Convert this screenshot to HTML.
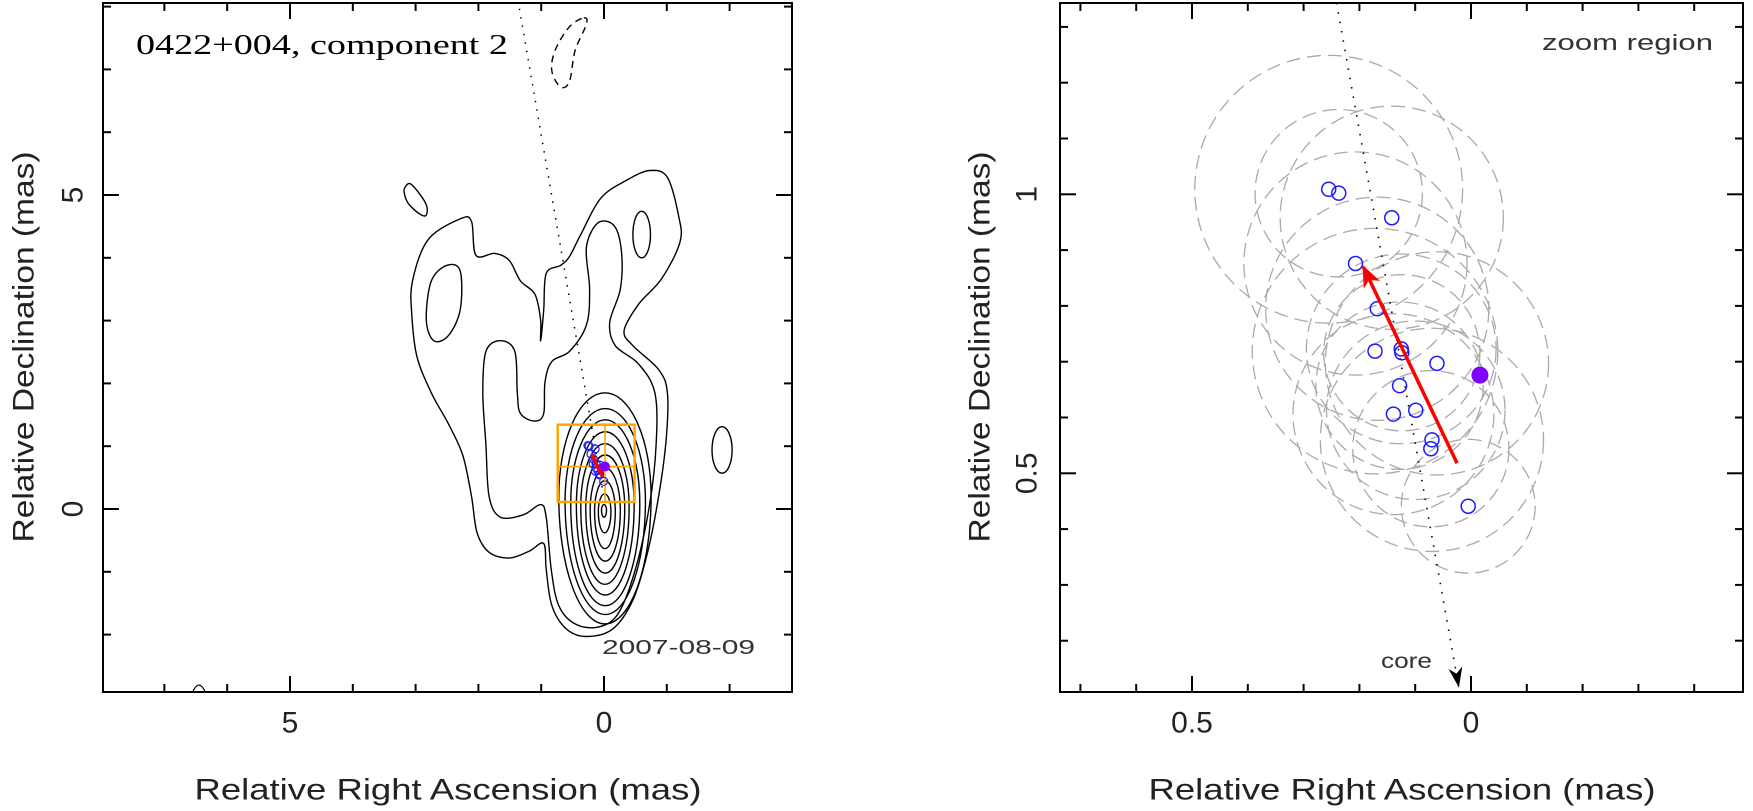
<!DOCTYPE html>
<html><head><meta charset="utf-8"><style>
html,body{margin:0;padding:0;background:#fff;}
svg{display:block;font-family:"Liberation Sans",sans-serif;}
</style></head><body>
<svg id="chart" width="1753" height="811" viewBox="0 0 1753 811" xmlns="http://www.w3.org/2000/svg">
<g id="left"></g>
<g id="right"></g>
</svg>
<script>
// ---- data (mas) ----
const compRA  = [0.255,0.237,0.142,0.207,0.168,0.172,0.125,0.124,0.061,0.128,0.139,0.099,0.070,0.072,0.005];
const compDec = [1.009,1.002,0.958,0.876,0.795,0.719,0.723,0.716,0.697,0.657,0.606,0.613,0.560,0.544,0.441];
const compErr = [0.24,0.15,0.20,0.20,0.20,0.22,0.17,0.14,0.20,0.15,0.18,0.16,0.20,0.14,0.12];
const meanPos = [-0.016,0.676];
const arrowFrom = [0.025,0.518];
const arrowTo = [0.193,0.870];
const coreLineTop = [0.241,1.343];
const coreLineEnd = [0.022,0.118];
const leftCoreLineTop = [1.37,8.1];
const zoomRA = [0.737,-0.487];
const zoomDec = [0.112,1.343];
const leftXTicks = [5,0];
const leftYTicks = [5,0];
const rightXTicks = [0.5,0];
const rightYTicks = [1,0.5];
// contours (RA, Dec pairs in mas)
const contourOuter = [[-0.73,5.39],[-1.01,5.28],[-1.19,4.66],[-1.21,4.25],[-0.92,3.67],[-0.55,3.26],[-0.32,2.84],[-0.46,2.60],[-0.87,2.22],[-1.01,1.85],[-0.99,1.11],[-0.87,0.20],[-0.69,-0.71],[-0.46,-1.45],[-0.14,-1.91],[0.28,-2.03],[0.60,-1.91],[0.83,-1.54],[0.92,-0.96],[0.96,-0.55],[1.19,-0.67],[1.51,-0.78],[1.83,-0.69],[2.02,-0.38],[2.11,0.20],[2.25,0.86],[2.48,1.36],[2.75,1.85],[2.98,2.43],[3.06,3.09],[3.05,3.63],[2.80,4.29],[2.29,4.62],[2.11,4.58],[2.04,4.04],[1.74,4.07],[1.51,3.96],[1.33,3.63],[1.10,3.42],[1.01,3.01],[1.01,2.68],[0.96,3.17],[0.92,3.75],[0.69,3.88],[0.55,4.02],[0.37,4.37],[0.05,4.95],[-0.37,5.24]];
const contourLobe = [[2.83,3.01],[2.75,3.63],[2.50,3.88],[2.29,3.79],[2.29,3.17],[2.48,2.76],[2.71,2.68]];
const contourSecond = [[0.09,4.56],[-0.17,4.50],[-0.28,4.08],[-0.26,3.50],[-0.09,2.97],[-0.18,2.60],[-0.55,2.31],[-0.81,1.85],[-0.83,1.02],[-0.72,0.03],[-0.50,-0.96],[-0.23,-1.66],[0.09,-1.88],[0.46,-1.83],[0.72,-1.54],[0.84,-0.96],[0.92,-0.13],[1.01,0.07],[1.28,-0.09],[1.65,-0.13],[1.83,0.20],[1.88,1.02],[1.93,1.85],[1.88,2.51],[1.65,2.68],[1.42,2.51],[1.38,1.85],[1.33,1.52],[1.10,1.40],[0.96,1.52],[0.94,2.02],[0.83,2.35],[0.55,2.51],[0.28,2.93],[0.23,3.50],[0.28,4.17]];
const contourBlobTL = [[3.17,5.12],[3.07,5.17],[2.84,4.87],[2.83,4.68],[2.94,4.70],[3.12,4.87],[3.18,5.03]];
const contourNeg = [[0.32,7.82],[0.28,7.72],[0.46,7.30],[0.55,6.81],[0.69,6.72],[0.83,6.97],[0.78,7.30],[0.55,7.68]];
const coreTop = [1.85,1.60,1.42,1.23,1.04,0.86,0.65,0.45,0.24,0.07];
const coreBottom = [-1.83,-1.68,-1.54,-1.37,-1.20,-1.02,-0.83,-0.63,-0.38,-0.13];
const coreLeft = [0.72,0.62,0.53,0.44,0.37,0.29,0.22,0.15,0.09,0.04];
const coreRight = [-0.75,-0.66,-0.57,-0.48,-0.40,-0.33,-0.26,-0.18,-0.11,-0.04];
const islandRA = [-0.60,-1.88];
const islandDec = [4.37,0.94];
const islandRx = [0.14,0.16];
const islandRy = [0.37,0.37];

// ---- axes ----
const L = {x0:103,x1:792,y0:3,y1:692, sx:62.8, ra0:604, dec0:509};
const R = {x0:1060,x1:1743,y0:3,y1:692, sx:558, ra0:1471, dec0:194.3+558};
const xL = ra => L.ra0 - ra*L.sx;
const yL = d => L.dec0 - d*L.sx;
const xR = ra => R.ra0 - ra*R.sx;
const yR = d => R.dec0 - d*R.sx;
const NS="http://www.w3.org/2000/svg";
function mk(parent, tag, attrs){const e=document.createElementNS(NS,tag);for(const k in attrs)e.setAttribute(k,attrs[k]);parent.appendChild(e);return e;}
const gl=document.getElementById('left'), gr=document.getElementById('right');

function smoothClosed(pts){
  const n=pts.length;let d=`M${pts[0][0].toFixed(1)},${pts[0][1].toFixed(1)}`;
  for(let i=0;i<n;i++){const p0=pts[(i-1+n)%n],p1=pts[i],p2=pts[(i+1)%n],p3=pts[(i+2)%n];
    const c1=[p1[0]+(p2[0]-p0[0])/6,p1[1]+(p2[1]-p0[1])/6],c2=[p2[0]-(p3[0]-p1[0])/6,p2[1]-(p3[1]-p1[1])/6];
    d+=`C${c1[0].toFixed(1)},${c1[1].toFixed(1)} ${c2[0].toFixed(1)},${c2[1].toFixed(1)} ${p2[0].toFixed(1)},${p2[1].toFixed(1)}`;}
  return d+'Z';
}
function contour(arr,name,dash){
  const p=mk(gl,'path',{d:smoothClosed(arr.map(q=>[xL(q[0]),yL(q[1])])),fill:'none',stroke:'#000','stroke-width':1.4,'stroke-dasharray':dash||'none','clip-path':'url(#clipL)'});
  
  
}
const defs=mk(document.getElementById('chart'),'defs',{});
const cl=mk(defs,'clipPath',{id:'clipL'});mk(cl,'rect',{x:L.x0,y:L.y0,width:L.x1-L.x0,height:L.y1-L.y0});
const cr=mk(defs,'clipPath',{id:'clipR'});mk(cr,'rect',{x:R.x0,y:R.y0,width:R.x1-R.x0,height:R.y1-R.y0});
const mr=mk(defs,'marker',{id:'arrRed',markerWidth:8,markerHeight:8,refX:6,refY:4,orient:'auto',markerUnits:'userSpaceOnUse',viewBox:'0 0 8 8'});
mk(mr,'path',{d:'M0,0 L8,4 L0,8 L2,4 Z',fill:'#ff0000'});
const mrR=mk(defs,'marker',{id:'arrRedBig',markerWidth:22,markerHeight:22,refX:20,refY:11,orient:'auto',markerUnits:'userSpaceOnUse',viewBox:'0 0 22 22'});
mk(mrR,'path',{d:'M0,2 L22,11 L0,20 L6,11 Z',fill:'#ff0000'});
const mrK=mk(defs,'marker',{id:'arrBlack',markerWidth:20,markerHeight:20,refX:19,refY:10,orient:'auto',markerUnits:'userSpaceOnUse',viewBox:'0 0 20 20'});
mk(mrK,'path',{d:'M0,3 L20,10 L0,17 L6,10 Z',fill:'#000'});

// ---- LEFT PANEL ----
contour(contourOuter,'contour-outer');
contour(contourLobe,'contour-left-lobe');
contour(contourSecond,'contour-second');
contour(contourBlobTL,'contour-blob-top-left');
contour(contourNeg,'contour-negative','7 5');
for(let i=0;i<islandRA.length;i++){
  const e=mk(gl,'ellipse',{cx:xL(islandRA[i]),cy:yL(islandDec[i]),rx:islandRx[i]*L.sx,ry:islandRy[i]*L.sx,fill:'none',stroke:'#000','stroke-width':1.4});
  
  
}
for(let i=0;i<coreTop.length;i++){
  const T=yL(coreTop[i]),B=yL(coreBottom[i]),lx=xL(coreLeft[i]),rx=xL(coreRight[i]);
  const cx=(lx+rx)/2, a=(rx-lx)/2, ym=T+0.45*(B-T);
  const d=`M${cx},${T} A${a},${ym-T} 0 0 1 ${rx},${ym} A${a},${B-ym} 0 0 1 ${cx},${B} A${a},${B-ym} 0 0 1 ${lx},${ym} A${a},${ym-T} 0 0 1 ${cx},${T}Z`;
  const p=mk(gl,'path',{d:d,fill:'none',stroke:'#000','stroke-width':1.4});
  
  
}
const tiny=mk(gl,'path',{d:`M${xL(6.55)},${L.y1} Q${xL(6.45)},${L.y1-14} ${xL(6.35)},${L.y1}`,fill:'none',stroke:'#000','stroke-width':1.3});


const dl=mk(gl,'line',{x1:xL(leftCoreLineTop[0]),y1:yL(leftCoreLineTop[1]),x2:xL(coreLineEnd[0]),y2:yL(0.3),stroke:'#000','stroke-width':1.5,'stroke-dasharray':'1.5 7','clip-path':'url(#clipL)'});


const zb=mk(gl,'rect',{x:xL(zoomRA[0]),y:yL(zoomDec[1]),width:xL(zoomRA[1])-xL(zoomRA[0]),height:yL(zoomDec[0])-yL(zoomDec[1]),fill:'none',stroke:'#ffa500','stroke-width':2.5});


const zh=mk(gl,'line',{x1:xL(zoomRA[0]),x2:xL(zoomRA[1]),y1:yL(meanPos[1]),y2:yL(meanPos[1]),stroke:'#ffa500','stroke-width':1.6});


const zv=mk(gl,'line',{x1:xL(meanPos[0]),x2:xL(meanPos[0]),y1:yL(zoomDec[0]),y2:yL(zoomDec[1]),stroke:'#ffa500','stroke-width':1.6});


for(let i=0;i<compRA.length;i++){
  const c=mk(gl,'circle',{cx:xL(compRA[i]),cy:yL(compDec[i]),r:4,fill:'none',stroke:'#1a1aff','stroke-width':1.2});
  
  
}
const pm=mk(gl,'circle',{cx:xL(meanPos[0]),cy:yL(meanPos[1]),r:5,fill:'#8000ff'});


const la=mk(gl,'line',{x1:xL(arrowFrom[0]),y1:yL(arrowFrom[1]),x2:xL(arrowTo[0]),y2:yL(arrowTo[1]),stroke:'#ff0000','stroke-width':3.5,'marker-end':'url(#arrRed)'});



function frame(g,P,name){
  const r=mk(g,'rect',{x:P.x0,y:P.y0,width:P.x1-P.x0,height:P.y1-P.y0,fill:'none',stroke:'#000','stroke-width':2});
  
  
}
frame(gl,L,'left-plot-frame');
function ticks(g,P,xf,yf,xmin,xmax,ymin,ymax,step,major){
  const n0=Math.ceil(xmin/step-1e-6),n1=Math.floor(xmax/step+1e-6);
  for(let k=n0;k<=n1;k++){const v=k*step,x=xf(v),len=(Math.abs(v/major-Math.round(v/major))<1e-6)?16:8;
    mk(g,'line',{x1:x,x2:x,y1:P.y1,y2:P.y1-len,stroke:'#000','stroke-width':2});
    mk(g,'line',{x1:x,x2:x,y1:P.y0,y2:P.y0+len,stroke:'#000','stroke-width':2});}
  const m0=Math.ceil(ymin/step-1e-6),m1=Math.floor(ymax/step+1e-6);
  for(let k=m0;k<=m1;k++){const v=k*step,y=yf(v),len=(Math.abs(v/major-Math.round(v/major))<1e-6)?16:8;
    mk(g,'line',{y1:y,y2:y,x1:P.x0,x2:P.x0+len,stroke:'#000','stroke-width':2});
    mk(g,'line',{y1:y,y2:y,x1:P.x1,x2:P.x1-len,stroke:'#000','stroke-width':2});}
}
ticks(gl,L,xL,yL,-2.99,7.98,-2.93,8.05,1,5);
ticks(gr,R,xR,yR,-0.487,0.737,0.112,1.343,0.1,0.5);
function label(g,x,y,txt,name,size,rot,extra){
  const t=mk(g,'text',Object.assign({x:x,y:y,'font-size':size,'text-anchor':'middle','dominant-baseline':'central',fill:'#222'},extra||{}));
  if(rot)t.setAttribute('transform',`rotate(-90 ${x} ${y})`);
  t.textContent=txt;
  
  
  return t;
}
leftXTicks.forEach(v=>label(gl,xL(v),723,String(v),'x-tick-label',30));
leftYTicks.forEach(v=>label(gl,73,yL(v),String(v),'y-tick-label',30,true));
rightXTicks.forEach(v=>label(gr,xR(v),723,String(v),'x-tick-label',30));
rightYTicks.forEach(v=>label(gr,1027,yR(v),String(v),'y-tick-label',30,true));
const xt={textLength:507,lengthAdjust:'spacingAndGlyphs'};
const yt={textLength:391,lengthAdjust:'spacingAndGlyphs'};
label(gl,448,790,'Relative Right Ascension (mas)','x-axis-title',30,false,xt);
label(gr,1402,790,'Relative Right Ascension (mas)','x-axis-title',30,false,xt);
label(gl,24,347,'Relative Declination (mas)','y-axis-title',30,true,yt);
label(gr,980,347,'Relative Declination (mas)','y-axis-title',30,true,yt);
const tt=mk(gl,'text',{x:136,y:54,'font-size':28,'font-family':'"Liberation Serif",serif',fill:'#000',textLength:372,lengthAdjust:'spacingAndGlyphs'});
tt.textContent='0422+004, component 2';


const dt=mk(gl,'text',{x:602,y:654,'font-size':20,fill:'#333',textLength:153,lengthAdjust:'spacingAndGlyphs'});
dt.textContent='2007-08-09';



// ---- RIGHT PANEL ----
for(let i=0;i<compRA.length;i++){
  const c=mk(gr,'circle',{cx:xR(compRA[i]),cy:yR(compDec[i]),r:compErr[i]*R.sx,fill:'none',stroke:'#aaa','stroke-width':1.3,'stroke-dasharray':'14 7','clip-path':'url(#clipR)'});
  
  
}
const cl2=mk(gr,'line',{x1:xR(coreLineTop[0]),y1:yR(coreLineTop[1]),x2:xR(coreLineEnd[0]),y2:yR(coreLineEnd[1]),stroke:'#000','stroke-width':1.6,'stroke-dasharray':'1.5 8','marker-end':'url(#arrBlack)'});


for(let i=0;i<compRA.length;i++){
  const c=mk(gr,'circle',{cx:xR(compRA[i]),cy:yR(compDec[i]),r:7,fill:'none',stroke:'#1a1aff','stroke-width':1.5});
  
  
}
const pm2=mk(gr,'circle',{cx:xR(meanPos[0]),cy:yR(meanPos[1]),r:8.5,fill:'#8000ff'});


const ra2=mk(gr,'line',{x1:xR(arrowFrom[0]),y1:yR(arrowFrom[1]),x2:xR(arrowTo[0]),y2:yR(arrowTo[1]),stroke:'#ff0000','stroke-width':3.5,'marker-end':'url(#arrRedBig)'});


frame(gr,R,'right-plot-frame');
const zr=mk(gr,'text',{x:1542,y:50,'font-size':22,fill:'#333',textLength:171,lengthAdjust:'spacingAndGlyphs'});
zr.textContent='zoom region';


const co=mk(gr,'text',{x:1381,y:668,'font-size':21,fill:'#333',textLength:51,lengthAdjust:'spacingAndGlyphs'});
co.textContent='core';


</script>
</body></html>
